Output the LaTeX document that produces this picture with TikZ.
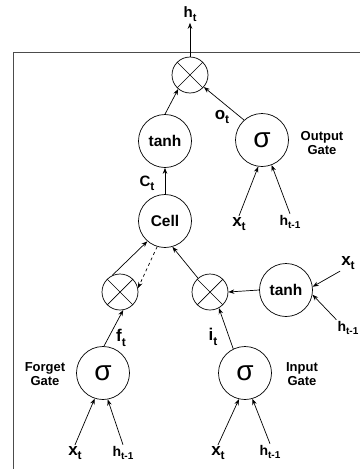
\documentclass[tikz,border=0pt]{standalone}
\usepackage{fontspec}
\setmainfont{Liberation Sans}
\usetikzlibrary{arrows.meta}
\newcommand{\subl}[4]{{\fontsize{#3}{#3}\selectfont\bfseries #1\raisebox{-0.28em}{\fontsize{#4}{#4}\selectfont #2}}}
\begin{document}
\begin{tikzpicture}[x=1pt,y=-1pt,
  gate/.style={draw,circle,line width=0.7pt,inner sep=0pt},
  mult/.style={gate,minimum size=36pt,path picture={\draw[line width=0.7pt] (path picture bounding box.north west)--(path picture bounding box.south east) (path picture bounding box.north east)--(path picture bounding box.south west);}},
  big/.style={gate,minimum size=53pt},
  txt/.style={inner sep=1pt},
  gatelbl/.style={font=\fontsize{13}{14}\selectfont\bfseries,align=center,inner sep=0pt},
  arr/.style={-{Stealth[length=6pt,width=4.5pt]},line width=0.7pt},
  sig/.style={font=\fontsize{28}{28}\selectfont}]
\useasboundingbox (0,0) rectangle (360,469);
\draw[line width=0.8pt,black!70] (13,469) -- (13,52) -- (360,52);
% nodes
\node[mult] (tm) at (190,75) {};
\node[big,font=\fontsize{15.5}{16}\selectfont\bfseries] (tt) at (165,141) {tanh};
\node[big,sig] (so) at (262,140) {σ};
\node[big,font=\fontsize{15.5}{16}\selectfont\bfseries] (ce) at (165,221) {Cell};
\node[mult] (fm) at (120,292) {};
\node[mult] (im) at (210,292) {};
\node[big,font=\fontsize{15.5}{16}\selectfont\bfseries] (ti) at (286,290) {tanh};
\node[big,sig] (fs) at (103,373) {σ};
\node[big,sig] (is) at (245,373) {σ};
% labels
\node[txt] (ht) at (190,14) {\subl{h}{t}{15}{11}};
\node[txt] (ot) at (222,117) {\subl{o}{t}{17}{12}};
\node[txt] (ct) at (147,183) {\subl{C}{t}{15}{12}};
\node[txt] (ft) at (121,338) {\subl{f}{t}{17}{12}};
\node[txt] (it) at (213,337) {\subl{i}{t}{17}{12}};
\node[gatelbl] (og) at (322,143) {Output\\Gate};
\node[gatelbl] (fg) at (45,374) {Forget\\Gate};
\node[gatelbl] (ig) at (302,374) {Input\\Gate};
\node[txt] (xo) at (239,224) {\subl{x}{t}{17}{12}};
\node[txt] (ho) at (290,222) {\subl{h}{t-1}{14}{10}};
\node[txt] (xr) at (348,263) {\subl{x}{t}{17}{12}};
\node[txt] (hr) at (348,328) {\subl{h}{t-1}{14}{10}};
\node[txt] (xf) at (75,453) {\subl{x}{t}{17}{12}};
\node[txt] (hf) at (123,453) {\subl{h}{t-1}{14}{10}};
\node[txt] (xi) at (218,453) {\subl{x}{t}{17}{12}};
\node[txt] (hi) at (270,452) {\subl{h}{t-1}{14}{10}};
% connectors
\draw[arr] (tm.north) -- (ht.south);
\draw[arr] (tt.north) -- (tm.230);
\draw[arr] (so.132) -- (tm.319);
\draw[arr] (xo.north) -- (so.262);
\draw[arr] (ho.north) -- (so.291);
\draw[arr] (ce.north) -- (tt.south);
\draw[arr] (fm.115) -- (ce.229);
\draw[arr,dashed] (ce.253) -- (fm.12);
\draw[arr] (im.131) -- (ce.286);
\draw[arr] (ti.west) -- (im.east);
\draw[arr] (xr.south west) -- (ti.7);
\draw[arr] (hr.north west) -- (ti.350);
\draw[arr] (fs.88) -- (fm.280);
\draw[arr] (is.116) -- (im.299);
\draw[arr] (xf.north) -- (fs.252);
\draw[arr] (hf.north) -- (fs.280);
\draw[arr] (xi.north) -- (is.257);
\draw[arr] (hi.north) -- (is.286);
\end{tikzpicture}
\end{document}
